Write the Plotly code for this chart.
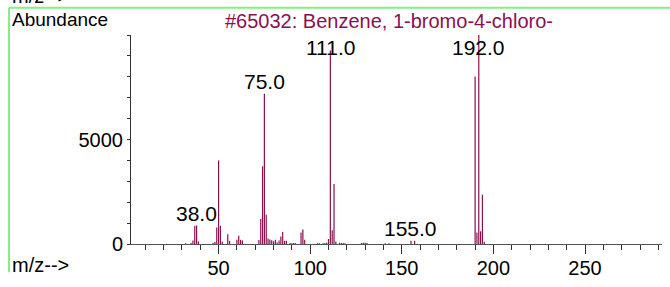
import plotly.graph_objects as go

# ---- data (m/z, abundance) ----
mz = [32, 35, 36, 37, 38, 39,
      47, 48, 49, 50, 51, 52, 55, 56, 60, 61, 62, 63,
      72, 73, 74, 75, 76, 77, 78, 79, 80, 81, 82, 83, 84, 85, 86, 87,
      89, 90, 91, 92, 95, 96, 97,
      104, 105, 107, 108, 109, 110, 111, 112, 113, 114, 116, 117, 118, 119,
      128, 129, 130, 131, 141, 143, 155, 157,
      190, 191, 192, 193, 194, 195]
abundance = [30, 50, 170, 870, 890, 120,
             50, 90, 790, 4000, 870, 120, 470, 150, 200, 400, 200, 170,
             190, 1200, 3720, 7190, 1400, 260, 220, 180, 130, 200, 70, 170, 360, 570, 150, 150,
             50, 40, 50, 40, 550, 690, 200,
             40, 40, 40, 50, 60, 240, 9260, 660, 2870, 120, 60, 50, 50, 40,
             50, 60, 60, 50, 40, 40, 150, 150,
             8020, 550, 9999, 610, 2360, 110]
label_mz = [38, 75, 111, 155, 192]
title_text = "#65032: Benzene, 1-bromo-4-chloro-"
x_tickvals = [50, 100, 150, 200, 250]
y_tickvals = [0, 5000]

# ---- layout geometry ----
W, H = 670, 287
L, R, T, B = 131, 8, 35, 30
PW, PH = W - L - R, H - T - B
MAROON = "#8b1050"
GREEN = "#86ee86"
FONT = "Arial, Liberation Sans, sans-serif"


def px(x):
    return (x - L) / PW


def py(y):
    return (H - B - y) / PH


# stick spectrum: one vertical segment per m/z value
xs, ys = [], []
for m, a in zip(mz, abundance):
    xs += [m, m, None]
    ys += [0, a, None]

fig = go.Figure()
fig.add_trace(go.Scatter(x=xs, y=ys, mode="lines",
                         line=dict(color=MAROON, width=1.2),
                         hoverinfo="skip"))

annotations = []
lookup = dict(zip(mz, abundance))
for m in label_mz:
    annotations.append(dict(x=m, y=min(lookup[m], 8850), xref="x", yref="y",
                            text=f"{m:.1f}", showarrow=False, yanchor="middle",
                            yshift=12, font=dict(size=21, color="black", family=FONT)))

annotations += [
    dict(x=px(389), y=py(20), xref="paper", yref="paper", text=title_text,
         showarrow=False, xanchor="center", yanchor="middle",
         font=dict(size=20, color=MAROON, family=FONT)),
    dict(x=px(10), y=py(19), xref="paper", yref="paper", text="Abundance",
         showarrow=False, xanchor="left", yanchor="middle",
         font=dict(size=19, color="black", family=FONT)),
    dict(x=px(10), y=py(279), xref="paper", yref="paper", text="m/z-->",
         showarrow=False, xanchor="left", yanchor="middle",
         font=dict(size=20, color="black", family=FONT)),
    dict(x=px(10), y=py(-6), xref="paper", yref="paper", text="m/z-->",
         showarrow=False, xanchor="left", yanchor="middle",
         font=dict(size=20, color="black", family=FONT)),
]

shapes = [
    dict(type="line", xref="paper", yref="paper", x0=px(9), x1=px(W), y0=py(6), y1=py(6),
         line=dict(color=GREEN, width=2)),
    dict(type="line", xref="paper", yref="paper", x0=px(9), x1=px(9), y0=py(6), y1=py(H),
         line=dict(color=GREEN, width=2)),
]

fig.update_layout(
    width=W, height=H,
    margin=dict(l=L, r=R, t=T, b=B, pad=0),
    paper_bgcolor="white", plot_bgcolor="white",
    showlegend=False,
    font=dict(family=FONT, size=20, color="black"),
    annotations=annotations, shapes=shapes,
    xaxis=dict(range=[2.2, 292], showgrid=False, zeroline=False,
               showline=True, linecolor="#555", linewidth=1,
               tickvals=x_tickvals, ticks="outside", ticklen=9, tickcolor="#333",
               ticklabelstandoff=-3,
               tickfont=dict(size=20, family=FONT, color="black"),
               minor=dict(dtick=10, tick0=0, ticks="outside", ticklen=5, tickcolor="#333")),
    yaxis=dict(range=[0, 10000], showgrid=False, zeroline=False,
               showline=True, linecolor="#333", linewidth=1,
               tickvals=y_tickvals, ticks="outside", ticklen=3, tickcolor="#333",
               tickfont=dict(size=20, family=FONT, color="black"),
               minor=dict(dtick=1000, tick0=0, ticks="outside", ticklen=3, tickcolor="#333")),
)

fig.write_html("out.html", config={"displayModeBar": False},
               post_script="document.body.style.margin='0px';")
